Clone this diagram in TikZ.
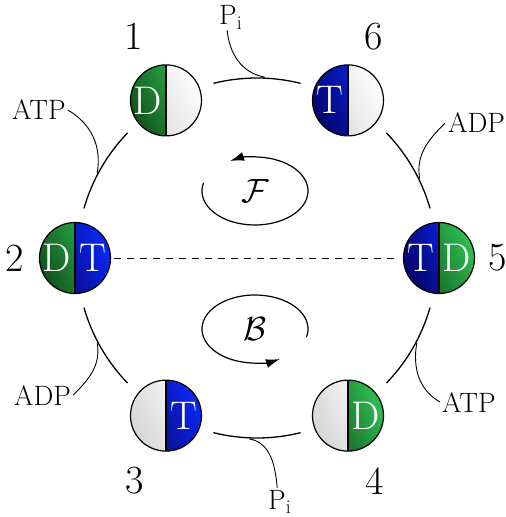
\documentclass[tikz,border=0pt]{standalone}
\usepackage{fontspec}
\usetikzlibrary{arrows.meta,calc}

% two-tone gradients for the disc halves (lo = left/lower, hi = right/upper)
\definecolor{grnlo}{HTML}{11531D}
\definecolor{grnhi}{HTML}{2FBE52}
\definecolor{blulo}{HTML}{04046A}
\definecolor{bluhi}{HTML}{0C28F8}
\definecolor{wtlo}{HTML}{D6D6D6}
\definecolor{wthi}{HTML}{FEFEFE}

\tikzset{
  halfshade/.style={top color=#1hi, bottom color=#1lo, shading angle=-65},
  disc/.style 2 args={circle, inner sep=0pt, minimum size=71pt, draw, line width=1.2pt,
    path picture={
      \begin{scope}
        \clip (path picture bounding box.south west) rectangle (path picture bounding box.north);
        \shade[halfshade=#1] (path picture bounding box.south west) rectangle (path picture bounding box.north east);
      \end{scope}
      \begin{scope}
        \clip (path picture bounding box.south) rectangle (path picture bounding box.north east);
        \shade[halfshade=#2] (path picture bounding box.south west) rectangle (path picture bounding box.north east);
      \end{scope}
      \draw[line width=1.2pt] (path picture bounding box.north) -- (path picture bounding box.south);
    }},
  letter/.style={text=white, inner sep=0pt, font=\fontsize{40}{40}\selectfont},
  num/.style={inner sep=0pt, font=\fontsize{40}{40}\selectfont},
  chem/.style={inner sep=0pt, anchor=base west, font=\fontsize{28}{32}\selectfont},
  ring/.style={line width=1.3pt},
  lead/.style={line width=0.9pt},
  cyc/.style={line width=1.2pt, -{Latex[length=14pt,width=9pt]}},
  cyclabel/.style={inner sep=0pt, font=\Huge, scale=1.35},
  dashline/.style={line width=1pt, dash pattern=on 7pt off 6pt, shorten <=3pt, shorten >=3pt},
}

\begin{document}
\begin{tikzpicture}[x=1pt, y=1pt]
\useasboundingbox (-257,-259) rectangle (249,258);
\coordinate (O) at (0,0);

% ring segments between the six states
\foreach \a [evaluate=\a as \s using \a+16, evaluate=\a as \e using \a+44] in {0,60,...,300}
  \draw[ring] ($(O)+(\s:180)$) arc[start angle=\s, end angle=\e, radius=180pt];

% the six states
\node[disc={grn}{wt}]  (n1) at (120:182) {};
\node[disc={blu}{wt}]  (n6) at (60:182)  {};
\node[disc={grn}{blu}] (n2) at (180:182) {};
\node[disc={blu}{grn}] (n5) at (0:182)   {};
\node[disc={wt}{blu}]  (n3) at (240:182) {};
\node[disc={wt}{grn}]  (n4) at (300:182) {};

\draw[dashline] (n2) -- (n5);

% bound nucleotides
\node[letter] (n1l) at ([xshift=-18pt]n1.center) {D};
\node[letter] (n6l) at ([xshift=-18pt]n6.center) {T};
\node[letter] (n2l) at ([xshift=-18pt]n2.center) {D};
\node[letter] (n2r) at ([xshift=18pt]n2.center)  {T};
\node[letter] (n5l) at ([xshift=-18pt]n5.center) {T};
\node[letter] (n5r) at ([xshift=18pt]n5.center)  {D};
\node[letter] (n3r) at ([xshift=18pt]n3.center)  {T};
\node[letter] (n4r) at ([xshift=18pt]n4.center)  {D};

% state numbers
\node[num] (k1) at ([shift={(-32,64)}]n1.center) {1};
\node[num] (k6) at ([shift={(26,64)}]n6.center)  {6};
\node[num] (k2) at ([shift={(-60,0)}]n2.center)  {2};
\node[num] (k5) at ([shift={(59,0)}]n5.center)   {5};
\node[num] (k3) at ([shift={(-31,-65)}]n3.center) {3};
\node[num] (k4) at ([shift={(27,-65)}]n4.center)  {4};

% forward and backward cycles
\node[cyclabel] (Fc) at (-2,67) {$\mathcal{F}$};
\draw[cyc] ($(Fc)+(166:53pt and 34pt)$) arc[start angle=166, end angle=478, x radius=53pt, y radius=34pt];
\node[cyclabel] (Bc) at (-2,-71) {$\mathcal{B}$};
\draw[cyc] ($(Bc)+(-14:53pt and 34pt)$) arc[start angle=-14, end angle=298, x radius=53pt, y radius=34pt];

% exchanged species and their leaders
\coordinate (eA) at (152:181);
\coordinate (eB) at (26:181);
\coordinate (eC) at (87.5:181);
\coordinate (eD) at (208:181);
\coordinate (eE) at (332:181);
\coordinate (eF) at (267.5:181);

\node[chem] (atpA) at (-245,138) {ATP};
\node[chem] (adpA) at (191,125)  {ADP};
\node[chem] (piA)  at (-38,233)  {P$_\mathrm{i}$};
\node[chem] (adpB) at (-243,-147) {ADP};
\node[chem] (atpB) at (185,-154) {ATP};
\node[chem] (piB)  at (11,-251)  {P$_\mathrm{i}$};

\draw[lead] ([xshift=2pt]atpA.east) to[out=-30, in=80] (eA);
\draw[lead] ([xshift=-3pt]adpA.west) to[out=225, in=100] (eB);
\draw[lead] ([xshift=-3.5pt,yshift=-1pt]piA.south) to[out=-85, in=170] (eC);
\draw[lead] ([xshift=2pt]adpB.east) to[out=45, in=280] (eD);
\draw[lead] ([xshift=-2pt]atpB.west) to[out=150, in=260] (eE);
\draw[lead] ([xshift=-2.5pt,yshift=2pt]piB.north) to[out=95, in=-10] (eF);
\end{tikzpicture}
\end{document}
